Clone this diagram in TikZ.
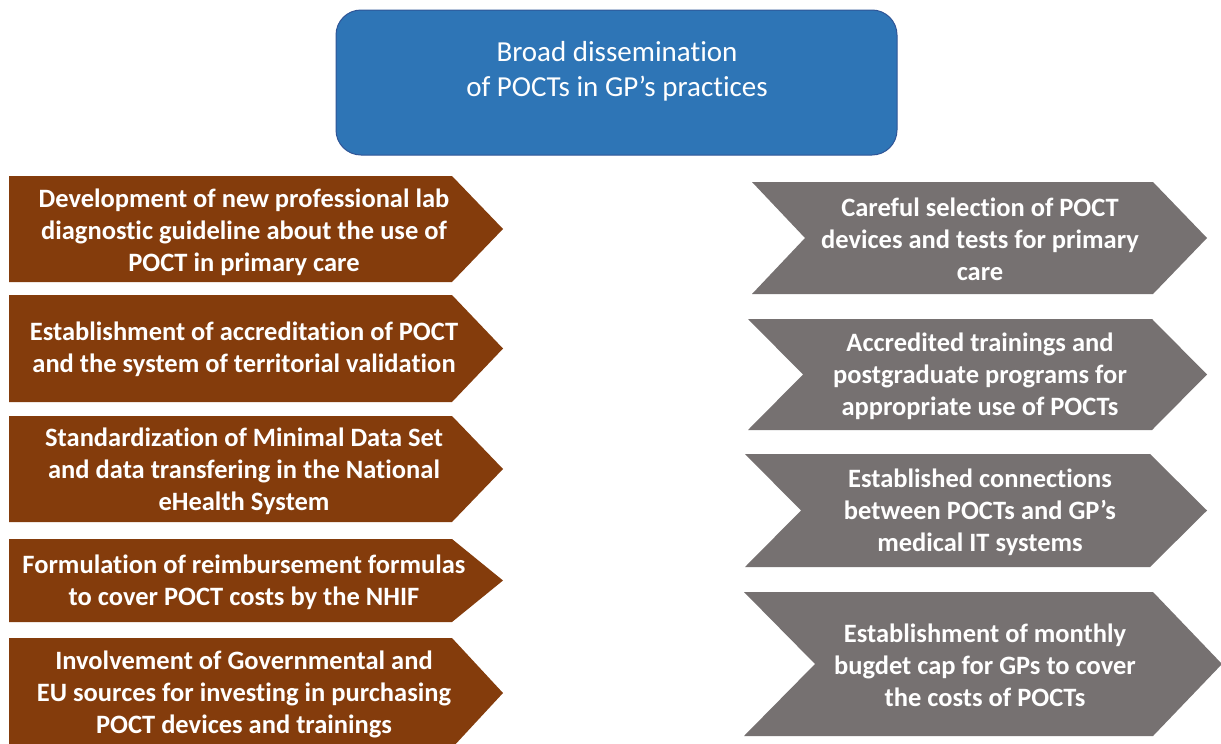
\documentclass[tikz,border=0pt]{standalone}
\usepackage{fontspec}
\setmainfont[Ligatures=NoCommon]{Carlito}
\definecolor{brownbox}{HTML}{843C0C}
\definecolor{graybox}{HTML}{767171}
\definecolor{bluebox}{HTML}{2E75B6}
\definecolor{blueline}{HTML}{2F5597}
\begin{document}
\begin{tikzpicture}[x=1pt,y=-1pt,
  boxtext/.style={text=white, font=\bfseries\fontsize{26.5}{32}\selectfont, align=center, inner sep=0pt},
  titletext/.style={text=white, font=\fontsize{29}{35}\selectfont, align=center, inner sep=0pt},
  brownshape/.style={fill=brownbox},
  grayshape/.style={fill=graybox}]
\useasboundingbox (0,0) rectangle (1221,744);
\fill[white] (0,0) rectangle (1221,744);

% title
\draw[blueline, fill=bluebox, line width=1pt, rounded corners=25pt] (336,10) rectangle (897,155);
\node[titletext] (title) at (617,71.5) {Broad dissemination\\of POCTs in GP’s practices};

% left arrows
\fill[brownshape] (9,176) -- (452,176) -- (503,229) -- (452,282) -- (9,282) -- cycle;
\node[boxtext] (l1) at (244,232) {Development of new professional lab\\diagnostic guideline about the use of\\POCT in primary care};

\fill[brownshape] (9,295) -- (452,295) -- (503,348.5) -- (452,402) -- (9,402) -- cycle;
\node[boxtext] (l2) at (244,349) {Establishment of accreditation of POCT\\and the system of territorial validation};

\fill[brownshape] (9,416) -- (452,416) -- (503,469) -- (452,522) -- (9,522) -- cycle;
\node[boxtext] (l3) at (244,471) {Standardization of Minimal Data Set\\and data transfering in the National\\eHealth System};

\fill[brownshape] (9,539) -- (452,539) -- (503,580.5) -- (452,622) -- (9,622) -- cycle;
\node[boxtext] (l4) at (244,582) {Formulation of reimbursement formulas\\to cover POCT costs by the NHIF};

\fill[brownshape] (9,638) -- (452,638) -- (503,693) -- (452,748) -- (9,748) -- cycle;
\node[boxtext] (l5) at (244,694) {Involvement of Governmental and\\EU sources for investing in purchasing\\POCT devices and trainings};

% right chevrons
\fill[grayshape] (752,182) -- (1153,182) -- (1207,238) -- (1153,294) -- (752,294) -- (805,238) -- cycle;
\node[boxtext] (r1) at (980,239) {Careful selection of POCT\\devices and tests for primary\\care};

\fill[grayshape] (748,319) -- (1152,319) -- (1207,374.5) -- (1152,430) -- (748,430) -- (803,374.5) -- cycle;
\node[boxtext] (r2) at (980,376) {Accredited trainings and\\postgraduate programs for\\appropriate use of POCTs};

\fill[grayshape] (745,454) -- (1150,454) -- (1207,510.5) -- (1150,567) -- (745,567) -- (801,510.5) -- cycle;
\node[boxtext] (r3) at (980,512) {Established connections\\between POCTs and GP’s\\medical IT systems};

\fill[grayshape] (744,592) -- (1153,592) -- (1222,664) -- (1153,736) -- (744,736) -- (815,664) -- cycle;
\node[boxtext] (r4) at (985,665) {Establishment of monthly\\bugdet cap for GPs to cover\\the costs of POCTs};
\end{tikzpicture}
\end{document}
